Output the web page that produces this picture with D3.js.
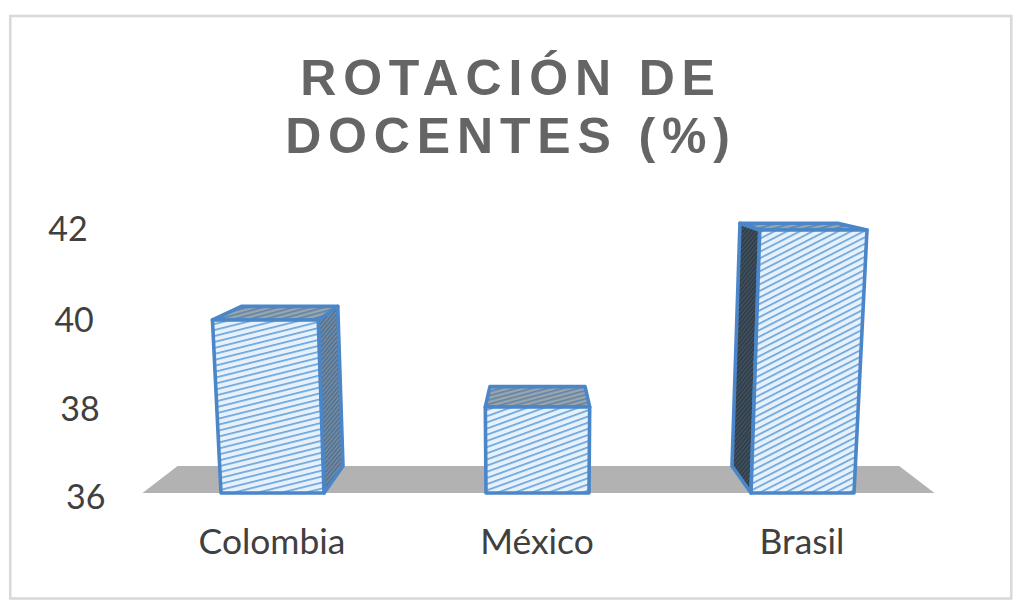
<!DOCTYPE html>
<html><head><meta charset="utf-8">
<script src="https://cdn.jsdelivr.net/npm/d3@7"></script>
<style>html,body{margin:0;background:#fff}svg{display:block}</style></head>
<body><div id="c"></div>
<script>
const categories = ["Colombia","México","Brasil"];
const values = [40,38,42];
const tickValues = [36,38,40,42];
const titleLines = ["ROTACIÓN DE","DOCENTES (%)"];

const W=1024,H=610;
const svg=d3.select("#c").append("svg").attr("width",W).attr("height",H);
const defs=svg.append("defs");
function pat(id,bg,fg,size,sw,angle){
  const p=defs.append("pattern").attr("id",id).attr("patternUnits","userSpaceOnUse")
    .attr("width",size).attr("height",size).attr("patternTransform",`rotate(${angle})`);
  p.append("rect").attr("width",size).attr("height",size).attr("fill",bg);
  p.append("rect").attr("width",size).attr("height",sw).attr("fill",fg);
}
const frontAngle={"Colombia":-14,"México":-20,"Brasil":-27};
categories.forEach((c,i)=>pat("front"+i,"#e6f1fb","#6ba5da",5.8,1.7,frontAngle[c]));
pat("sideC","#7f8d9b","#47709a",3,1.5,-50);
pat("sideB","#46535f","#2a3a48",3,1.5,-50);
pat("top","#9ba5ae","#5f83a6",4,1.6,-15);

svg.append("rect").attr("x",10.25).attr("y",16).attr("width",1001).attr("height",582.5)
  .attr("fill","#fff").attr("stroke","#d9d9d9").attr("stroke-width",2.6);

svg.append("g").selectAll("text").data(titleLines).join("text")
  .attr("x",511).attr("y",(d,i)=>[95,153][i])
  .attr("text-anchor","middle").attr("font-family","Liberation Sans").attr("font-weight",700)
  .attr("font-size",50).attr("letter-spacing",6.85).attr("fill","#656565").text(d=>d);

// perspective projection of chart space onto the page
const y=d3.scaleLinear().domain(tickValues).range([493,407,320,230]);
const tickY=d3.scaleLinear().domain(tickValues).range([497,409,320,229]);
const x=d3.scalePoint().domain(categories).range([-265,265]);
const cx=537.5, vy=190, depthK=0.911, tilt=0.000156, lift=0.012;
function proj(ox,v,back){
  const py=y(v), f=1+(493-py)*tilt, d=back?depthK:1;
  return [cx+ox*f*d, vy+(py-vy)*d-(back?(493-py)*lift:0)];
}
const poly=pts=>"M"+pts.map(p=>p.join(",")).join("L")+"Z";
const hw=51.5;

// floor
svg.append("path").attr("d",poly([proj(-395,36),proj(397,36),proj(397,36,true),proj(-395,36,true)])).attr("fill","#b2b2b2");

const bars=svg.append("g").selectAll("g").data(categories.map((c,i)=>({c,v:values[i],i}))).join("g");
const blue="#4a86c8";
bars.each(function(d){
  const g=d3.select(this), L=x(d.c)-hw, R=x(d.c)+hw;
  const face=(pts,fill)=>g.append("path").attr("d",poly(pts)).attr("fill",fill)
    .attr("stroke",blue).attr("stroke-width",3.6).attr("stroke-linejoin","round");
  if(R<0) face([proj(R,36),proj(R,d.v),proj(R,d.v,true),proj(R,36,true)],"url(#sideC)");
  if(L>0) face([proj(L,36),proj(L,d.v),proj(L,d.v,true),proj(L,36,true)],"url(#sideB)");
  face([proj(L,d.v),proj(R,d.v),proj(R,d.v,true),proj(L,d.v,true)],"url(#top)");
  face([proj(L,36),proj(L,d.v),proj(R,d.v),proj(R,36)],"url(#front"+d.i+")");
});

// axis labels
const font="Lato";
svg.append("g").selectAll("text").data(tickValues).join("text")
  .attr("x",d=>proj(-432,d)[0]).attr("y",d=>tickY(d)+12)
  .attr("text-anchor","end").attr("font-family",font).attr("font-size",34).attr("fill","#404040").text(d=>d);
svg.append("g").selectAll("text").data(categories).join("text")
  .attr("x",d=>cx+x(d)-0.5).attr("y",554)
  .attr("text-anchor","middle").attr("font-family",font).attr("font-size",35.4).attr("fill","#404040").text(d=>d);
</script></body></html>
